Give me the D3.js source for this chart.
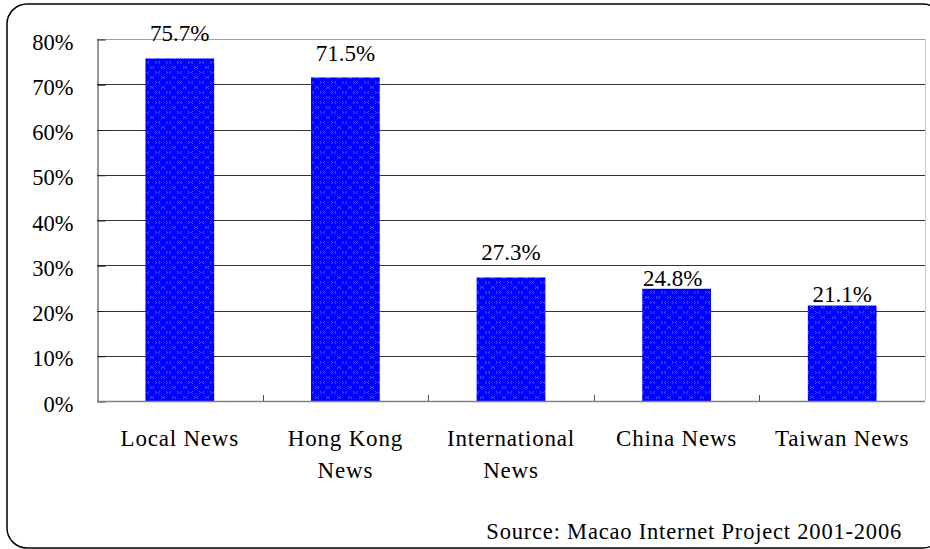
<!DOCTYPE html>
<html>
<head>
<meta charset="utf-8">
<script src="https://cdn.jsdelivr.net/npm/d3@7/dist/d3.min.js"></script>
<style>
  html, body { margin: 0; padding: 0; background: #fff; }
  svg { display: block; }
</style>
</head>
<body>
<svg id="chart" width="930" height="549"></svg>
<script>
// Share of respondents following each kind of news
const categories = [["Local News"], ["Hong Kong", "News"], ["International", "News"], ["China News"], ["Taiwan News"]];
const values = [0.757, 0.715, 0.273, 0.248, 0.211];
const valueLabels = ["75.7%", "71.5%", "27.3%", "24.8%", "21.1%"];
const yTicks = [0, 0.1, 0.2, 0.3, 0.4, 0.5, 0.6, 0.7, 0.8];
const sourceNote = "Source: Macao Internet Project 2001-2006";

const FONT = "'Liberation Serif', 'Times New Roman', Tinos, 'DejaVu Serif', serif";
// How far each value label sits above its bar, and its sideways nudge (px)
const labelLift = [17, 16, 17, 3, 4];
const labelNudge = [0, 0, 0, -4, 0];

const svg = d3.select("#chart");
const plot = { left: 97, right: 925, top: 39, bottom: 401 };

const x = d3.scaleBand()
  .domain(d3.range(values.length))
  .range([plot.left, plot.right])
  .padding(0);
const barWidth = x.bandwidth() * 0.415;

const y = d3.scaleLinear().domain([0, 0.8]).range([plot.bottom, plot.top]);
const snap = v => Math.round(v) + 0.5;

// Outer rounded frame
svg.append("rect")
  .attr("x", 7).attr("y", 4)
  .attr("width", 936).attr("height", 544)
  .attr("rx", 20).attr("ry", 20)
  .attr("fill", "none")
  .attr("stroke", "#000")
  .attr("stroke-width", 1.5);

// Bar fill: saturated blue with a faint lighter-blue motif
const defs = svg.append("defs");
const pat = defs.append("pattern")
  .attr("id", "barFill")
  .attr("patternUnits", "userSpaceOnUse")
  .attr("width", 11).attr("height", 10);
pat.append("rect").attr("width", 11).attr("height", 10).attr("fill", "#0000ff");
const dots = [[1,1],[2,2],[1,3],[5,1],[4,2],[5,3],[7,6],[8,7],[7,8],[10,6],[9,7],[10,8]];
pat.selectAll("rect.dot").data(dots).join("rect")
  .attr("class", "dot")
  .attr("x", d => d[0]).attr("y", d => d[1])
  .attr("width", 1).attr("height", 1)
  .attr("fill", "#3a5cff");

// Plot border (top and right) in light gray
svg.append("line")
  .attr("x1", plot.left).attr("x2", plot.right)
  .attr("y1", snap(y(0.8))).attr("y2", snap(y(0.8)))
  .attr("stroke", "#a0a0a0");
svg.append("line")
  .attr("x1", snap(plot.right)).attr("x2", snap(plot.right))
  .attr("y1", plot.top).attr("y2", plot.bottom)
  .attr("stroke", "#c8c8c8");

// Horizontal gridlines
svg.append("g").selectAll("line")
  .data(yTicks.filter(t => t > 0 && t < 0.8))
  .join("line")
  .attr("x1", plot.left).attr("x2", plot.right)
  .attr("y1", d => snap(y(d))).attr("y2", d => snap(y(d)))
  .attr("stroke", "#333")
  .attr("stroke-width", 1);

// Bars
svg.append("g").selectAll("rect")
  .data(values)
  .join("rect")
  .attr("x", (d, i) => x(i) + (x.bandwidth() - barWidth) / 2)
  .attr("width", barWidth)
  .attr("y", d => y(d))
  .attr("height", d => y(0) - y(d))
  .attr("fill", "url(#barFill)");

// Value labels above bars
svg.append("g").selectAll("text")
  .data(values)
  .join("text")
  .attr("x", (d, i) => x(i) + x.bandwidth() / 2 + labelNudge[i])
  .attr("y", (d, i) => y(d) - labelLift[i])
  .attr("text-anchor", "middle")
  .style("font-family", FONT)
  .style("font-size", "23px")
  .text((d, i) => valueLabels[i]);

// Y axis: line, inward ticks, percentage labels
const yAxis = d3.axisLeft(y)
  .tickValues(yTicks)
  .tickFormat(d3.format(".0%"))
  .tickSize(0)
  .tickPadding(24);
const gy = svg.append("g")
  .attr("transform", `translate(${snap(plot.left)},0)`)
  .call(yAxis);
gy.select(".domain").attr("stroke", "#333");
gy.selectAll(".tick text")
  .style("font-family", FONT)
  .style("font-size", "22.5px")
  .attr("dy", 10)
  .attr("fill", "#000");
gy.selectAll(".tick").append("line")
  .attr("x1", 0).attr("x2", 8)
  .attr("y1", 0.5).attr("y2", 0.5)
  .attr("stroke", "#222");

// X axis baseline with inward ticks at category boundaries
svg.append("line")
  .attr("x1", plot.left).attr("x2", plot.right)
  .attr("y1", snap(plot.bottom)).attr("y2", snap(plot.bottom))
  .attr("stroke", "#808080")
  .attr("stroke-width", 1.5);
const boundaries = d3.range(values.length).map(i => x(i));
svg.append("g").selectAll("line")
  .data(boundaries.slice(1))
  .join("line")
  .attr("x1", d => snap(d)).attr("x2", d => snap(d))
  .attr("y1", plot.bottom - 6).attr("y2", plot.bottom)
  .attr("stroke", "#555");

// Category labels (wrapped onto two lines where needed)
const cat = svg.append("g").selectAll("text")
  .data(categories)
  .join("text")
  .attr("text-anchor", "middle")
  .style("font-family", FONT)
  .style("font-size", "23px")
  .style("letter-spacing", "0.8px")
  .attr("x", (d, i) => x(i) + x.bandwidth() / 2)
  .attr("y", 446);
cat.selectAll("tspan")
  .data(d => d)
  .join("tspan")
  .attr("x", function () { return d3.select(this.parentNode).attr("x"); })
  .attr("dy", (d, j) => j === 0 ? 0 : 32)
  .text(d => d);

// Source note
svg.append("text")
  .attr("x", 902).attr("y", 539)
  .attr("text-anchor", "end")
  .style("font-family", FONT)
  .style("font-size", "22.5px")
  .style("letter-spacing", "0.8px")
  .text(sourceNote);
</script>
</body>
</html>
